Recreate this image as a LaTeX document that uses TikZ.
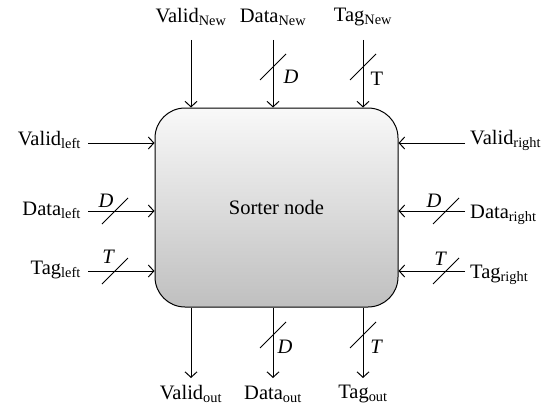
\documentclass[tikz,border=0pt]{standalone}
\usepackage{fontspec}
\setmainfont{Liberation Serif}
\usetikzlibrary{arrows.meta}
\tikzset{
  lbl/.style={inner sep=0pt, font=\fontsize{20.5}{24}\selectfont},
  wlbl/.style={inner sep=0pt, font=\fontsize{20.5}{24}\selectfont\itshape},
  arr/.style={draw, line width=1pt, -{Straight Barb[length=5.5pt,width=12pt]}},
  slash/.style={draw, line width=0.8pt},
  sorter/.style={draw, line width=1pt, rounded corners=30pt, minimum width=243pt, minimum height=199pt,
     top color=gray!5, bottom color=gray!50, inner sep=0pt, font=\fontsize{20.5}{24}\selectfont}
}
\begin{document}
\begin{tikzpicture}[x=1pt,y=-1pt]
\useasboundingbox (0,0) rectangle (557,412);
\node[sorter] (box) at (276.5,207.5) {Sorter node};
% top labels
\node[lbl] (vn) at (191,17) {Valid\textsubscript{New}};
\node[lbl] (dn) at (273,17) {Data\textsubscript{New}};
\node[lbl] (tn) at (363,17) {Tag\textsubscript{New}};
\coordinate (vns) at (191,40);
\coordinate (dns) at (273,40);
\coordinate (tns) at (363,40);
\draw[arr] (vns) -- (vns |- box.north);
\draw[arr] (dns) -- (dns |- box.north);
\draw[arr] (tns) -- (tns |- box.north);
\coordinate (dnsl) at (273,67);
\coordinate (tnsl) at (363,67);
\draw[slash] ([shift={(-13,13)}]dnsl) -- ([shift={(13,-13)}]dnsl);
\draw[slash] ([shift={(-13,13)}]tnsl) -- ([shift={(13,-13)}]tnsl);
\node[wlbl] (dnw) at (291,77) {D};
\node[lbl] (tnw) at (377,79) {T};
% left
\node[lbl, anchor=east] (vl) at (81,140) {Valid\textsubscript{left}};
\node[lbl, anchor=east] (dl) at (81,210) {Data\textsubscript{left}};
\node[lbl, anchor=east] (tl) at (81,270) {Tag\textsubscript{left}};
\coordinate (vls) at (88,143);
\coordinate (dls) at (88,211);
\coordinate (tls) at (88,271);
\draw[arr] (vls) -- (vls -| box.west);
\draw[arr] (dls) -- (dls -| box.west);
\draw[arr] (tls) -- (tls -| box.west);
\coordinate (dlsl) at (115,211);
\coordinate (tlsl) at (115,271);
\draw[slash] ([shift={(-13,13)}]dlsl) -- ([shift={(13,-13)}]dlsl);
\draw[slash] ([shift={(-13,13)}]tlsl) -- ([shift={(13,-13)}]tlsl);
\node[wlbl] (dlw) at (106,201) {D};
\node[wlbl] (tlw) at (108,257) {T};
% right
\node[lbl, anchor=west] (vr) at (470,140) {Valid\textsubscript{right}};
\node[lbl, anchor=west] (dr) at (470,215) {Data\textsubscript{right}};
\node[lbl, anchor=west] (tr) at (470,275) {Tag\textsubscript{right}};
\coordinate (vrs) at (465,143);
\coordinate (drs) at (465,211);
\coordinate (trs) at (465,271);
\draw[arr] (vrs) -- (vrs -| box.east);
\draw[arr] (drs) -- (drs -| box.east);
\draw[arr] (trs) -- (trs -| box.east);
\coordinate (drsl) at (446,211);
\coordinate (trsl) at (446,271);
\draw[slash] ([shift={(-13,13)}]drsl) -- ([shift={(13,-13)}]drsl);
\draw[slash] ([shift={(-13,13)}]trsl) -- ([shift={(13,-13)}]trsl);
\node[wlbl] (drw) at (434,201) {D};
\node[wlbl] (trw) at (440,259) {T};
% bottom
\coordinate (vos) at (191,378);
\coordinate (dos) at (273,378);
\coordinate (tos) at (363,378);
\draw[arr] (vos |- box.south) -- (vos);
\draw[arr] (dos |- box.south) -- (dos);
\draw[arr] (tos |- box.south) -- (tos);
\coordinate (dosl) at (273,335);
\coordinate (tosl) at (363,335);
\draw[slash] ([shift={(-13,13)}]dosl) -- ([shift={(13,-13)}]dosl);
\draw[slash] ([shift={(-13,13)}]tosl) -- ([shift={(13,-13)}]tosl);
\node[wlbl] (dow) at (285,347) {D};
\node[wlbl] (tow) at (376,347) {T};
\node[lbl] (vo) at (191,394) {Valid\textsubscript{out}};
\node[lbl] (do) at (273,394) {Data\textsubscript{out}};
\node[lbl] (to) at (363,394) {Tag\textsubscript{out}};
\end{tikzpicture}
\end{document}
